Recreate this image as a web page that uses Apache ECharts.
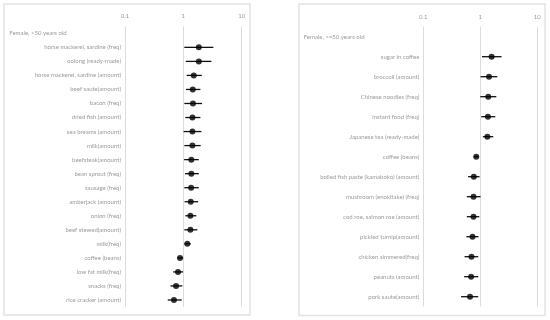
<!DOCTYPE html>
<html><head><meta charset="utf-8">
<script src="https://cdn.jsdelivr.net/npm/echarts@6/dist/echarts.min.js"></script>
<style>html,body{margin:0;padding:0;background:#fff}#c{width:550px;height:320px}</style>
</head><body><div id="c"></div>
<script>
const xTicks = [0.1, 1, 10];
const titleL = 'Female, <50 years old';
const labelsL = ['horse mackerel, sardine (freq)','oolong (ready-made)','horse mackerel, sardine (amount)','beef saute(amount)','bacon (freq)','dried fish (amount)','sea breams (amount)','milk(amount)','beefsteak(amount)','bean sprout (freq)','sausage (freq)','amberjack (amount)','onion (freq)','beef stewed(amount)','milk(freq)','coffee (beans)','low fat milk(freq)','snacks (freq)','rice cracker (amount)'];
const estL = [1.84,1.84,1.51,1.45,1.46,1.43,1.43,1.43,1.37,1.37,1.36,1.34,1.32,1.32,1.17,0.877,0.81,0.75,0.69];
const loL  = [1.04,1.10,1.14,1.11,1.04,1.08,1.01,1.04,1.03,1.07,1.04,1.05,1.08,1.04,1.04,0.79,0.67,0.60,0.54];
const hiL  = [3.27,3.02,2.07,1.96,2.09,1.96,2.04,1.98,1.84,1.84,1.84,1.79,1.67,1.74,1.34,0.99,0.99,0.96,0.94];
const titleR = 'Female, >=50 years old';
const labelsR = ['sugar in coffee','broccoli (amount)','Chinese noodles (freq)','instant food (freq)','Japanese tea (ready-made)','coffee (beans)','boiled fish paste (kamaboko) (amount)','mushroom (enokitake) (freq)','cod roe, salmon roe (amount)','pickled turnip(amount)','chicken simmered(freq)','peanuts (amount)','pork saute(amount)'];
const estR = [1.58,1.42,1.38,1.36,1.33,0.85,0.77,0.76,0.76,0.73,0.70,0.69,0.66];
const loR  = [1.07,1.01,1.00,1.04,1.11,0.77,0.61,0.58,0.58,0.57,0.53,0.52,0.46];
const hiR  = [2.36,1.99,1.91,1.83,1.69,0.93,0.97,1.01,0.96,0.93,0.92,0.92,0.92];

const FONT = 'Lato';
const GRAY = '#9a9a9a';
const FS = 6;
const catsL = [' '].concat(labelsL);
const catsR = ['  '].concat(labelsR);

function xAx(gi){
  return {type:'log', logBase:10, min:0.1, max:10, gridIndex:gi, position:'top',
    axisLine:{show:false}, axisTick:{show:false},
    axisLabel:{show:true, color:GRAY, fontSize:FS, fontFamily:FONT, margin:7,
      customValues:xTicks, formatter:v=>String(+v.toPrecision(3))},
    splitLine:{show:true, lineStyle:{color:'#dcdcdc', width:1}}};
}
function yAx(gi,cats){
  return {type:'category', data:cats, inverse:true, gridIndex:gi,
    axisLine:{show:false}, axisTick:{show:false}, splitLine:{show:false},
    axisLabel:{color:GRAY, fontSize:FS, fontFamily:FONT, margin:4, interval:0}};
}
function errData(labels,lo,hi){return labels.map((l,i)=>[lo[i],l,hi[i]]);}
function ptData(labels,est){return labels.map((l,i)=>[est[i],l]);}
function renderErr(params,api){
  const y = api.value(1);
  const a = api.coord([api.value(0), y]);
  const b = api.coord([api.value(2), y]);
  return {type:'line', shape:{x1:a[0],y1:a[1],x2:b[0],y2:b[1]}, style:{stroke:'#111', lineWidth:1.3}};
}
const chart = echarts.init(document.getElementById('c'), null, {renderer:'canvas'});
chart.setOption({
  animation:false,
  backgroundColor:'#fff',
  grid:[{left:125, width:116.7, top:26.3, height:280.7},
        {left:423.3, width:114, top:26.7, height:280}],
  xAxis:[xAx(0), xAx(1)],
  yAxis:[yAx(0,catsL), yAx(1,catsR)],
  graphic:[
    {type:'rect', shape:{x:4,y:4,width:246,height:311}, style:{fill:'none', stroke:'#e3e3e3', lineWidth:1.5}, z:-1},
    {type:'rect', shape:{x:299,y:4,width:246,height:311.5}, style:{fill:'none', stroke:'#e3e3e3', lineWidth:1.5}, z:-1},
    {type:'text', x:9.3, y:33.3, style:{text:titleL, fill:GRAY, font:FS+'px '+FONT, textVerticalAlign:'middle'}},
    {type:'text', x:303.7, y:36.7, style:{text:titleR, fill:GRAY, font:FS+'px '+FONT, textVerticalAlign:'middle'}}
  ],
  series:[
    {type:'custom', xAxisIndex:0, yAxisIndex:0, data:errData(labelsL,loL,hiL), encode:{x:[0,2], y:1}, renderItem:renderErr},
    {type:'scatter', xAxisIndex:0, yAxisIndex:0, data:ptData(labelsL,estL), symbolSize:6, itemStyle:{color:'#000'}},
    {type:'custom', xAxisIndex:1, yAxisIndex:1, data:errData(labelsR,loR,hiR), encode:{x:[0,2], y:1}, renderItem:renderErr},
    {type:'scatter', xAxisIndex:1, yAxisIndex:1, data:ptData(labelsR,estR), symbolSize:6, itemStyle:{color:'#000'}}
  ]
});
</script></body></html>
